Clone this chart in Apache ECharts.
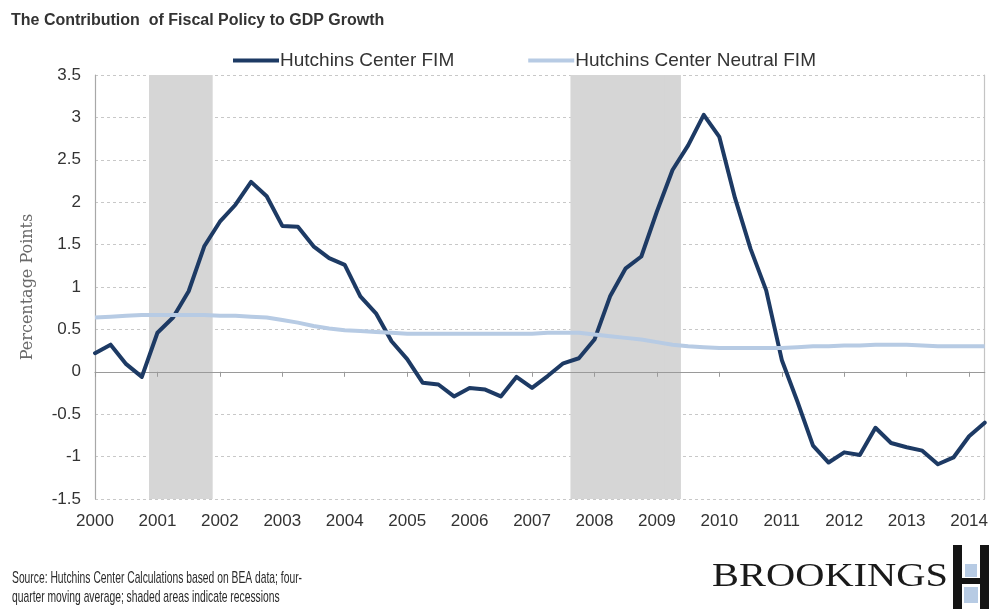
<!DOCTYPE html>
<html>
<head>
<meta charset="utf-8">
<script src="https://cdn.jsdelivr.net/npm/echarts@6/dist/echarts.min.js"></script>
<style>
  html, body { margin: 0; padding: 0; background: #ffffff; }
  #chart { width: 991px; height: 609px; }
</style>
</head>
<body>
<div id="chart"></div>
<script>
// ---- Data ----
const titleText = 'The Contribution  of Fiscal Policy to GDP Growth';
const yAxisName = 'Percentage Points';
const seriesNames = ['Hutchins Center FIM', 'Hutchins Center Neutral FIM'];
const yearLabels = ['2000','2001','2002','2003','2004','2005','2006','2007','2008','2009','2010','2011','2012','2013','2014'];
const quarterCount = 58; // 2000Q1 .. 2014Q2
const fimValues = [
  0.22, 0.32, 0.09, -0.06, 0.46, 0.64, 0.95, 1.48, 1.77, 1.97,
  2.24, 2.07, 1.72, 1.71, 1.48, 1.34, 1.26, 0.89, 0.69, 0.36,
  0.15, -0.13, -0.15, -0.29, -0.19, -0.21, -0.29, -0.06, -0.19, -0.05,
  0.10, 0.16, 0.38, 0.89, 1.22, 1.36, 1.89, 2.38, 2.67, 3.03,
  2.77, 2.05, 1.45, 0.96, 0.14, -0.35, -0.87, -1.07, -0.95, -0.98,
  -0.66, -0.84, -0.89, -0.93, -1.09, -1.01, -0.76, -0.60
];
const neutralValues = [
  0.64, 0.65, 0.66, 0.67, 0.67, 0.67, 0.67, 0.67, 0.66, 0.66,
  0.65, 0.64, 0.61, 0.58, 0.54, 0.51, 0.49, 0.48, 0.47, 0.46,
  0.45, 0.45, 0.45, 0.45, 0.45, 0.45, 0.45, 0.45, 0.45, 0.46,
  0.46, 0.46, 0.44, 0.42, 0.40, 0.38, 0.35, 0.32, 0.30, 0.29,
  0.28, 0.28, 0.28, 0.28, 0.28, 0.29, 0.30, 0.30, 0.31, 0.31,
  0.32, 0.32, 0.32, 0.31, 0.30, 0.30, 0.30, 0.30
];
const recessionQuarters = ['2001Q1','2001Q2','2001Q3','2001Q4',
  '2007Q4','2008Q1','2008Q2','2008Q3','2008Q4','2009Q1','2009Q2'];
const footerLines = ['Source: Hutchins Center Calculations based on BEA data; four-',
  'quarter moving average; shaded areas indicate recessions'];
const brandText = 'BROOKINGS';

// ---- Build categories ----
const categories = [];
for (const y of yearLabels) {
  for (let q = 1; q <= 4; q++) {
    if (categories.length < quarterCount) categories.push(y + 'Q' + q);
  }
}
const recessionData = categories.map(c => recessionQuarters.indexOf(c) >= 0 ? 1 : '-');

// ---- Text measurement for condensed graphics ----
const mctx = document.createElement('canvas').getContext('2d');
function fitScale(text, font, target) {
  mctx.font = font;
  return target / mctx.measureText(text).width;
}
const footFont = '17px "Liberation Sans", Arial, sans-serif';
const footScale = fitScale(footerLines[0], footFont, 290);
const brandFont = '34px "Liberation Serif", "Times New Roman", serif';
const brandScale = fitScale(brandText, brandFont, 236);

const chart = echarts.init(document.getElementById('chart'), null, { renderer: 'canvas' });

const option = {
  backgroundColor: '#ffffff',
  animation: false,
  textStyle: { fontFamily: '"Liberation Sans", Arial, sans-serif' },
  title: {
    text: titleText,
    left: 6, top: 8,
    textStyle: { fontSize: 16, fontWeight: 'bold', color: '#333333', fontFamily: '"Liberation Sans", Arial, sans-serif' }
  },
  legend: {
    data: [
      { name: seriesNames[0], icon: 'rect' },
      { name: seriesNames[1], icon: 'rect' }
    ],
    left: 228, top: 46,
    itemWidth: 46, itemHeight: 4, itemGap: 74,
    textStyle: { fontSize: 19, color: '#333333', padding: [0, 0, 0, -4] }
  },
  grid: { left: 95, right: 6, top: 75, bottom: 110, containLabel: false },
  xAxis: [
    {
      type: 'category', data: categories, boundaryGap: false, position: 'bottom',
      axisLine: { show: false, onZero: false },
      axisTick: { show: false },
      splitLine: { show: false },
      axisLabel: {
        interval: 3, margin: 14, fontSize: 17, color: '#333333',
        formatter: v => v.slice(0, 4)
      }
    },
    {
      type: 'category', data: categories, boundaryGap: false, position: 'top', z: 5,
      axisLine: { show: true, onZero: true, onZeroAxisIndex: 0, lineStyle: { color: '#9a9a9a', width: 1.2 } },
      axisTick: { show: true, interval: 3, inside: true, length: 5, lineStyle: { color: '#9a9a9a' } },
      axisLabel: { show: false },
      splitLine: { show: false }
    }
  ],
  yAxis: [
    {
      type: 'value', min: -1.5, max: 3.5, interval: 0.5,
      name: yAxisName, nameLocation: 'middle', nameGap: 59, nameRotate: 90,
      nameTextStyle: { fontSize: 16, color: '#6a6a6a', fontFamily: '"DejaVu Serif", "Liberation Serif", serif' },
      axisLine: { show: true, lineStyle: { color: '#a8a8a8', width: 1.2 } },
      axisTick: { show: false },
      axisLabel: { fontSize: 17, color: '#333333', margin: 14 },
      splitLine: { show: true, lineStyle: { color: '#c8c8c8', type: [3, 3], width: 1 } }
    },
    {
      type: 'value', min: 0, max: 1, position: 'right',
      axisLine: { show: true, lineStyle: { color: '#c4c4c4', width: 1.2 } },
      axisTick: { show: false }, axisLabel: { show: false }, splitLine: { show: false }
    }
  ],
  series: [
    {
      name: 'Recession', type: 'bar', xAxisIndex: 0, yAxisIndex: 1,
      data: recessionData, barWidth: '108%', barGap: '-100%', z: 1,
      itemStyle: { color: '#d6d6d6', borderWidth: 0 }, silent: true
    },
    {
      name: seriesNames[0], type: 'line', xAxisIndex: 0, yAxisIndex: 0,
      data: fimValues, symbol: 'none', z: 6,
      lineStyle: { color: '#1d3a64', width: 4, join: 'round', cap: 'round' },
      itemStyle: { color: '#1d3a64' }
    },
    {
      name: seriesNames[1], type: 'line', xAxisIndex: 0, yAxisIndex: 0,
      data: neutralValues, symbol: 'none', z: 7,
      lineStyle: { color: '#b7cbe4', width: 4, join: 'round' },
      itemStyle: { color: '#b7cbe4' }
    }
  ],
  graphic: [
    { type: 'text', x: 12, y: 578, scaleX: footScale, style: { text: footerLines[0], font: footFont, fill: '#2a2a2a', textVerticalAlign: 'middle' } },
    { type: 'text', x: 12, y: 597, scaleX: footScale, style: { text: footerLines[1], font: footFont, fill: '#2a2a2a', textVerticalAlign: 'middle' } },
    { type: 'text', x: 712, y: 577, scaleX: brandScale, style: { text: brandText, font: brandFont, fill: '#1a1a1a', textVerticalAlign: 'middle' } },
    { type: 'rect', shape: { x: 953, y: 545, width: 9, height: 64 }, style: { fill: '#141414' } },
    { type: 'rect', shape: { x: 980, y: 545, width: 9, height: 64 }, style: { fill: '#141414' } },
    { type: 'rect', shape: { x: 962, y: 578, width: 18, height: 6 }, style: { fill: '#141414' } },
    { type: 'rect', shape: { x: 965, y: 564, width: 12, height: 13 }, style: { fill: '#b7cbe4' } },
    { type: 'rect', shape: { x: 964, y: 587, width: 14, height: 16 }, style: { fill: '#b7cbe4' } }
  ]
};
chart.setOption(option);
</script>
</body>
</html>
